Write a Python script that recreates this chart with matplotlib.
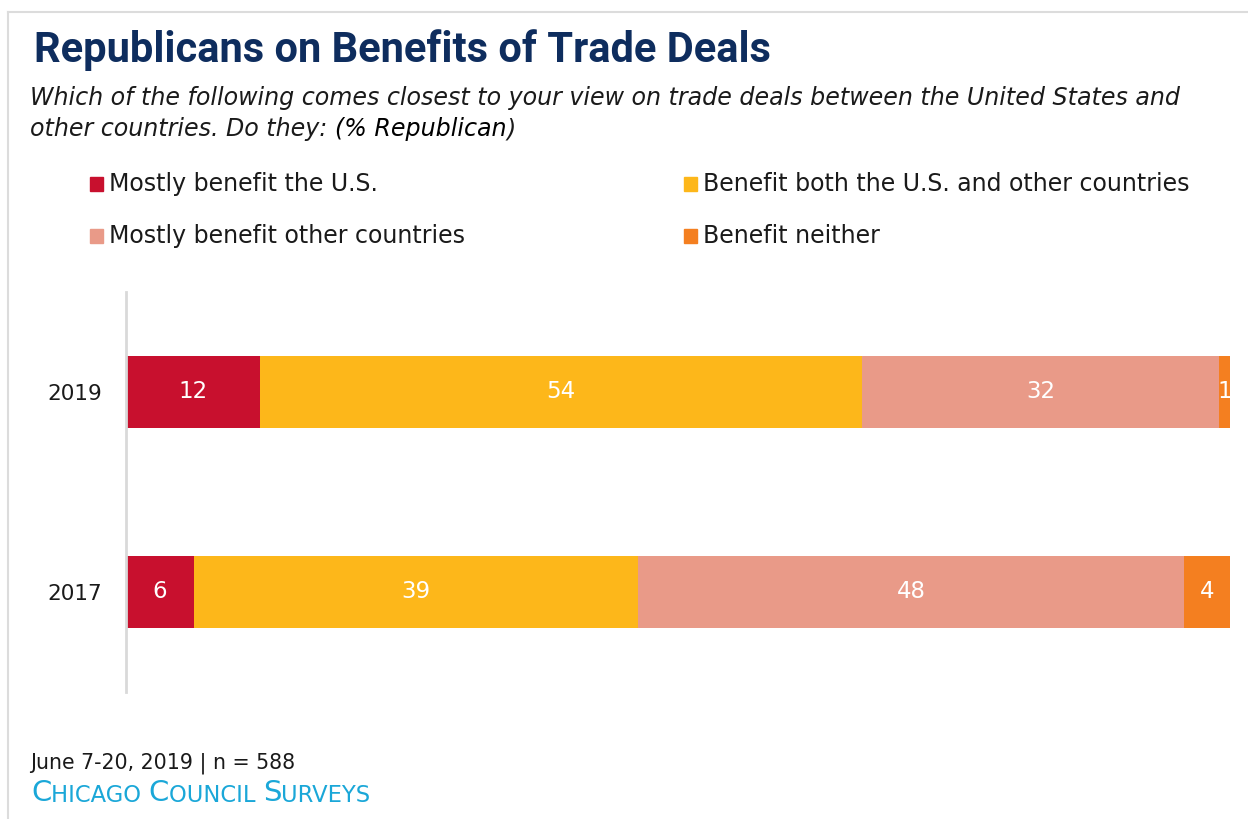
import numpy as np
import matplotlib.pyplot as plt
from matplotlib.lines import Line2D

years = ["2019", "2017"]
categories = ["Mostly benefit the U.S.", "Benefit both the U.S. and other countries",
              "Mostly benefit other countries", "Benefit neither"]
mostly_us = [12, 6]
benefit_both = [54, 39]
mostly_other = [32, 48]
neither = [1, 4]
colors = ["#c8102e", "#fdb71a", "#e99a88", "#f47f20"]

plt.rcParams['font.family'] = ['DejaVu Sans']

fig = plt.figure(figsize=(12.48, 8.19), dpi=100)
ax = fig.add_axes([126 / 1248, 1 - 692 / 819, (1230 - 126) / 1248, 400 / 819])

# bars are drawn as shares of each row total (rows don't add to 100)
data = np.array([mostly_us, benefit_both, mostly_other, neither], dtype=float)
shares = data / data.sum(axis=0) * 100
ypos = np.arange(len(years))
left = np.zeros(len(years))
for i, cat in enumerate(categories):
    ax.barh(ypos, shares[i], left=left, height=0.36, color=colors[i], label=cat)
    for j in range(len(years)):
        ax.text(left[j] + shares[i][j] / 2, ypos[j], str(int(data[i][j])),
                ha='center', va='center', color='white', fontsize=16.5)
    left += shares[i]

ax.set_xlim(0, 100)
ax.set_ylim(1.5, -0.5)
ax.set_yticks(ypos)
ax.set_yticklabels(years, fontsize=15.5, color='#1a1a1a')
ax.tick_params(axis='y', length=0, pad=17)
ax.set_xticks([])
for s in ['top', 'right', 'bottom']:
    ax.spines[s].set_visible(False)
ax.spines['left'].set_color('#d9d9d9')
ax.spines['left'].set_linewidth(2)

# legend, 2 x 2
leg_pos = [(90, 184), (684, 184), (90, 236), (684, 236)]
for (x, y), cat, c in zip(leg_pos, categories, colors):
    fig.patches.append(plt.Rectangle((x / 1248, 1 - (y + 7) / 819), 13 / 1248, 14 / 819,
                                     transform=fig.transFigure, color=c))
    fig.text((x + 19) / 1248, 1 - y / 819, cat, fontsize=17, va='center', color='#1a1a1a')

# title and subtitle
fig.text(34 / 1248, 1 - 62 / 819, "Republicans on Benefits of Trade Deals",
         fontsize=30, fontweight='bold', color='#0e2d5e', family=['Roboto', 'DejaVu Sans'])
fig.text(30 / 1248, 1 - 98 / 819,
         "Which of the following comes closest to your view on trade deals between the United States and",
         fontsize=17.1, style='italic', va='center', color='#1a1a1a')
t1 = fig.text(30 / 1248, 1 - 129 / 819, "other countries. Do they: ",
              fontsize=17.1, style='italic', va='center', color='#1a1a1a')
t2 = ax.annotate("(% Republican", xy=(1, 0), xycoords=t1, va='bottom',
                 fontsize=17.1, style='italic', color='black')
ax.annotate(")", xy=(1, 0), xycoords=t2, va='bottom',
            fontsize=17.1, style='italic', color='#1a1a1a')

# footer
fig.text(30 / 1248, 1 - 763 / 819, "June 7-20, 2019 | n = 588", fontsize=14.8,
         va='center', color='#1a1a1a')
prev = None
x0 = 31 / 1248
for word in ["Chicago", "Council", "Surveys"]:
    parts = [(word[0], 21), (word[1:].upper() + " ", 16.3)]
    for txt, fs in parts:
        if prev is None:
            prev = fig.text(x0, 1 - 801 / 819, txt, fontsize=fs, color='#1aa7d8',
                            va='baseline')
        else:
            prev = ax.annotate(txt, xy=(1, 0), xycoords=prev, va='bottom',
                               fontsize=fs, color='#1aa7d8', annotation_clip=False)

# frame lines
fig.add_artist(Line2D([8 / 1248, 1], [1 - 12 / 819, 1 - 12 / 819], color='#dcdcdc', lw=1.5,
                      transform=fig.transFigure))
fig.add_artist(Line2D([8 / 1248, 8 / 1248], [0, 1 - 12 / 819], color='#dcdcdc', lw=1.5,
                      transform=fig.transFigure))

fig.savefig("out.png", dpi=100)
